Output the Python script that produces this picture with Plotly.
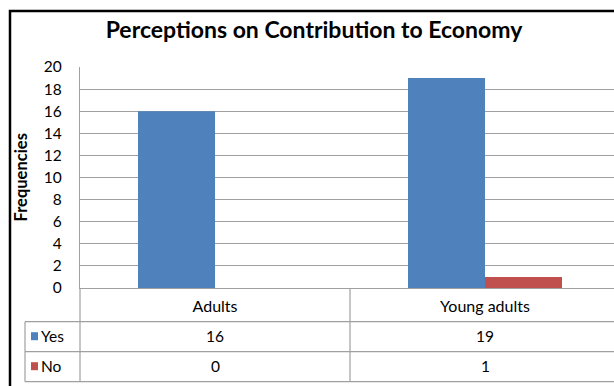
import plotly.graph_objects as go

# Survey counts per age group
groups = ["Adults", "Young adults"]
series_names = ["Yes", "No"]
yes_counts = [16, 19]
no_counts = [0, 1]
y_ticks = list(range(0, 21, 2))

colors = {"Yes": "#4f81bd", "No": "#c0504d"}
FONT = "Lato, 'Open Sans', sans-serif"
GRID = "#a0a0a0"

# Canvas and plot-area geometry (pixels)
W, H = 614, 386
L, T = 80, 67
PLOT_BOTTOM = 288
PW = W - L
PH = PLOT_BOTTOM - T


def fx(px):
    return (px - L) / PW


def fy(py):
    return (PLOT_BOTTOM - py) / PH


fig = go.Figure()
for name, vals in zip(series_names, [yes_counts, no_counts]):
    fig.add_trace(go.Bar(
        x=groups, y=vals, name=name,
        marker=dict(color=colors[name], line=dict(width=0)),
        showlegend=False,
    ))

# Category width is 270 px, so the second group runs past the right edge
x_span = PW / 270.0

shapes = []
# outer chart frame
shapes.append(dict(type="rect", xref="paper", yref="paper",
                   x0=fx(10), y0=fy(11), x1=fx(W + 60), y1=fy(H + 60),
                   line=dict(color="black", width=2.5), fillcolor="rgba(0,0,0,0)"))

# data table grid
row_lines = [321.7, 351.7, 381.7]
for py in row_lines:
    shapes.append(dict(type="line", xref="paper", yref="paper",
                       x0=fx(25), x1=fx(W + 20), y0=fy(py), y1=fy(py),
                       line=dict(color=GRID, width=1.2)))
shapes.append(dict(type="line", xref="paper", yref="paper",
                   x0=fx(25), x1=fx(25), y0=fy(321.7), y1=fy(381.7),
                   line=dict(color=GRID, width=1.2)))
shapes.append(dict(type="line", xref="paper", yref="paper",
                   x0=0, x1=0, y0=0, y1=fy(381.7),
                   line=dict(color=GRID, width=1.2)))
shapes.append(dict(type="line", xref="x", yref="paper",
                   x0=0.5, x1=0.5, y0=0, y1=fy(381.7),
                   line=dict(color=GRID, width=1.2)))

annotations = []
row_centers = {"Yes": 336.2, "No": 366.2}
for name, vals in zip(series_names, [yes_counts, no_counts]):
    cy = row_centers[name]
    # legend key square
    shapes.append(dict(type="rect", xref="paper", yref="paper",
                       x0=fx(31), x1=fx(38), y0=fy(cy - 4), y1=fy(cy + 4),
                       line=dict(width=0), fillcolor=colors[name]))
    annotations.append(dict(xref="paper", yref="paper", x=fx(39), y=fy(cy),
                            text=name, showarrow=False, xanchor="left", yanchor="middle",
                            font=dict(family=FONT, size=15.5, color="#000")))
    for g, v in zip(groups, vals):
        annotations.append(dict(xref="x", yref="paper", x=g, y=fy(cy),
                                text=str(v), showarrow=False, xanchor="center", yanchor="middle",
                                font=dict(family=FONT, size=15.5, color="#000")))

# rotated axis title
annotations.append(dict(xref="paper", yref="paper", x=fx(20), y=fy(177.5),
                        text="<b>Frequencies</b>", textangle=-90, showarrow=False,
                        xanchor="center", yanchor="middle",
                        font=dict(family=FONT, size=16.5, color="#000")))

fig.update_layout(
    width=W, height=H,
    margin=dict(l=L, r=0, t=T, b=H - PLOT_BOTTOM, pad=0),
    paper_bgcolor="white", plot_bgcolor="white",
    barmode="group", bargap=1 - 154 / 270.0, bargroupgap=0,
    title=dict(text="<b>Perceptions on Contribution to Economy</b>",
               xref="container", yref="container",
               x=314 / W, y=1 - 30 / H, xanchor="center", yanchor="middle",
               font=dict(family=FONT, size=23, color="#000")),
    xaxis=dict(range=[-0.5, -0.5 + x_span], showgrid=False,
               showline=True, linecolor=GRID, linewidth=1.2,
               ticks="", ticklabelstandoff=4,
               tickfont=dict(family=FONT, size=16, color="#000")),
    yaxis=dict(range=[0, 20], tickvals=y_ticks, showgrid=True,
               gridcolor=GRID, gridwidth=1.2,
               showline=True, linecolor=GRID, linewidth=1.2,
               ticks="", ticklabelstandoff=14, zeroline=False,
               tickfont=dict(family=FONT, size=15.5, color="#000")),
    shapes=shapes, annotations=annotations,
)

fig.write_html("out.html", config={"displayModeBar": False})
